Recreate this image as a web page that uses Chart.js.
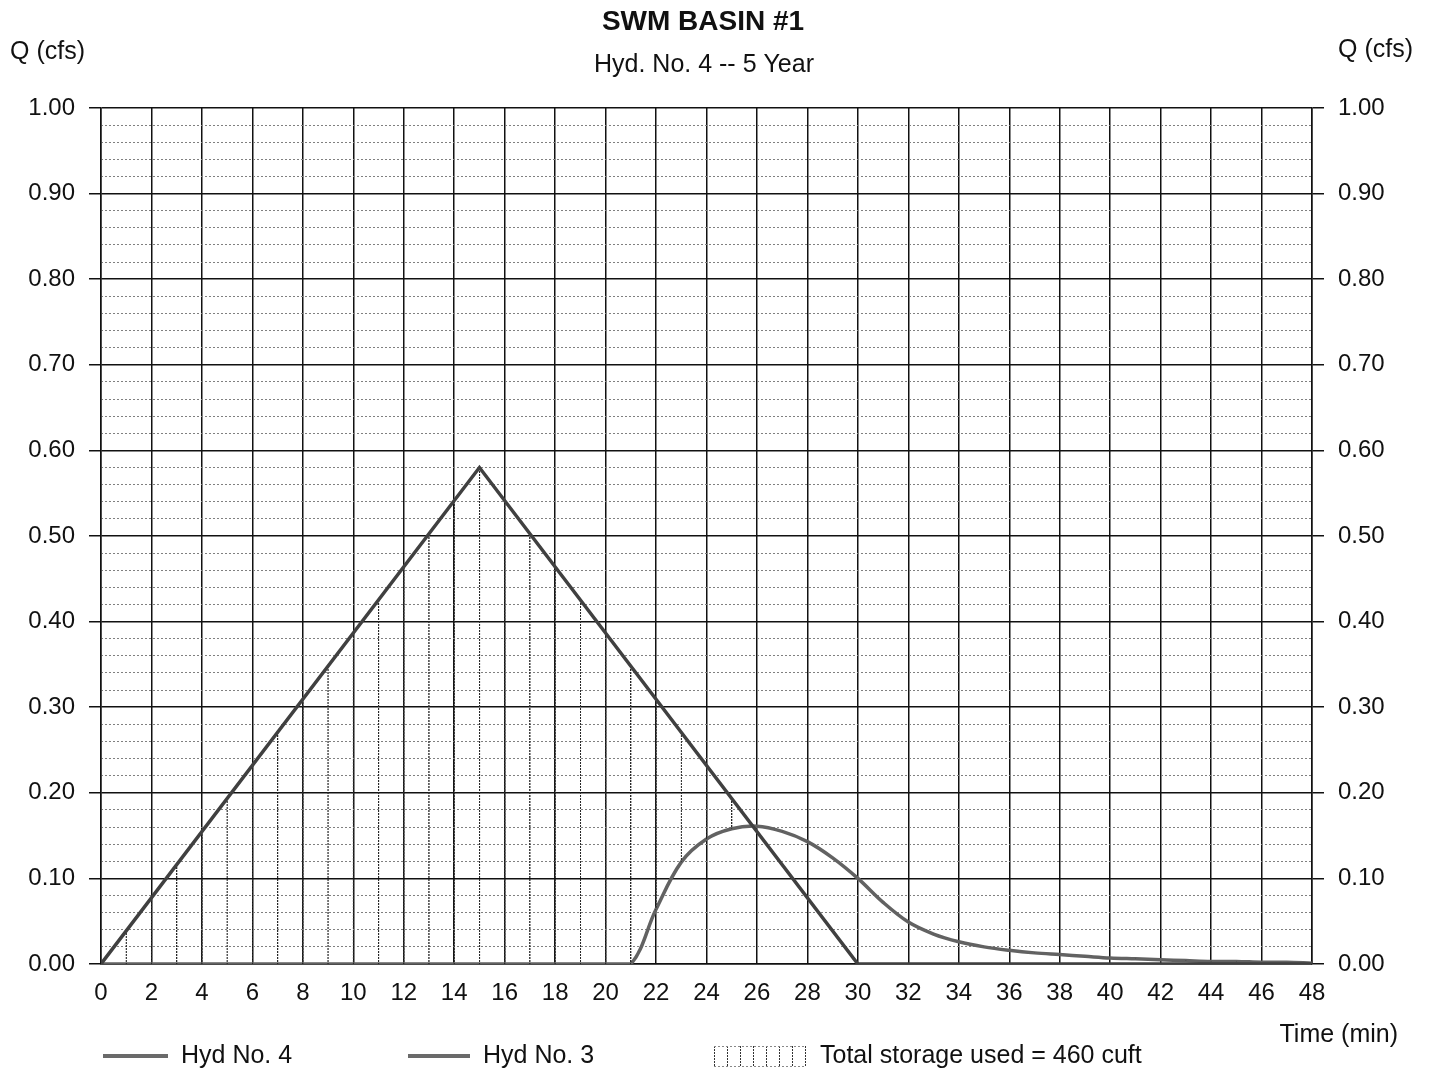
<!DOCTYPE html>
<html>
<head>
<meta charset="utf-8">
<title>SWM BASIN #1</title>
<script src="https://cdn.jsdelivr.net/npm/chart.js@4.4.0/dist/chart.umd.min.js"></script>
<style>
  html, body { margin: 0; padding: 0; background: #fff; }
  #wrap { position: relative; width: 1429px; height: 1070px; }
</style>
</head>
<body>
<div id="wrap"><canvas id="hydChart"></canvas></div>
<script>
// Hydrograph values (time in min, Q in cfs)
const hyd4Time = [0, 15, 30, 48];
const hyd4Q = [0, 0.58, 0, 0];

const hyd3Time = [0, 20, 21, 22, 23, 24, 25, 26, 27, 28, 29, 30, 31, 32, 33, 34, 35,
  36, 37, 38, 39, 40, 41, 42, 43, 44, 45, 46, 47, 48];
const hyd3Q = [0, 0, 0, 0.064, 0.119, 0.146, 0.158, 0.161, 0.155, 0.143, 0.124, 0.100, 0.072,
  0.049, 0.035, 0.026, 0.020, 0.016, 0.013, 0.011, 0.009, 0.007, 0.006, 0.005, 0.004,
  0.003, 0.003, 0.002, 0.002, 0.001];

const timeTicks = [0, 48, 2];      // min, max, step
const flowTicks = [0, 1, 0.1];     // min, max, step
const minorStep = 0.02;

const titleText = 'SWM BASIN #1';
const subtitleText = 'Hyd. No. 4 -- 5 Year';
const yTitle = 'Q (cfs)';
const xTitle = 'Time (min)';
const legendLabels = ['Hyd No. 4', 'Hyd No. 3', 'Total storage used = 460 cuft'];

const FONT = "'Liberation Sans', Arial, Helvetica, sans-serif";

function toPoints(xs, ys) {
  return xs.map((x, i) => ({ x: x, y: ys[i] }));
}

// vertical dotted hatch, one line per minute, lined up with the x scale
function storageHatch(ctx) {
  const chart = ctx.chart;
  const xs = chart.scales && chart.scales.x;
  if (!xs || !chart.chartArea) return 'rgba(0,0,0,0)';
  const p0 = xs.getPixelForValue(0);
  const p2 = xs.getPixelForValue(2);
  const c = document.createElement('canvas');
  c.width = 100;
  c.height = 3;
  const g = c.getContext('2d');
  g.fillStyle = 'rgba(40,40,40,1)';
  g.fillRect(0, 0, 2.4, 2);
  g.fillRect(50, 0, 2.4, 2);
  const pat = chart.ctx.createPattern(c, 'repeat');
  const sx = (p2 - p0) / 100;
  pat.setTransform(new DOMMatrix([sx, 0, 0, 1, p0 - 1.2 * sx, 0]));
  return pat;
}

const textPlugin = {
  id: 'swmTexts',
  afterDraw(chart) {
    const ctx = chart.ctx;
    ctx.save();
    ctx.fillStyle = '#111';
    ctx.textBaseline = 'middle';

    ctx.font = 'bold 28px ' + FONT;
    ctx.textAlign = 'center';
    ctx.fillText(titleText, 703, 22);
    ctx.font = '25px ' + FONT;
    ctx.fillText(subtitleText, 704, 65);

    ctx.textAlign = 'left';
    ctx.fillText(yTitle, 10, 52);
    ctx.fillText(yTitle, 1338, 50);
    ctx.textAlign = 'right';
    ctx.fillText(xTitle, 1398, 1035);

    // legend
    const ly = 1056;
    ctx.textAlign = 'left';
    ctx.lineCap = 'butt';
    ctx.strokeStyle = '#6a6a6a';
    ctx.lineWidth = 4;
    ctx.beginPath();
    ctx.moveTo(103, ly); ctx.lineTo(168, ly);
    ctx.moveTo(408, ly); ctx.lineTo(470, ly);
    ctx.stroke();
    ctx.fillText(legendLabels[0], 181, ly);
    ctx.fillText(legendLabels[1], 483, ly);

    ctx.strokeStyle = '#333';
    ctx.lineWidth = 1;
    ctx.setLineDash([2, 1]);
    ctx.beginPath();
    for (let x = 714; x <= 806; x += 13) {
      ctx.moveTo(x + 0.5, 1046); ctx.lineTo(x + 0.5, 1067);
    }
    ctx.stroke();
    ctx.strokeStyle = '#888';
    ctx.setLineDash([2, 2]);
    ctx.beginPath();
    ctx.moveTo(714, 1046.5); ctx.lineTo(806, 1046.5);
    ctx.moveTo(714, 1066.5); ctx.lineTo(806, 1066.5);
    ctx.stroke();
    ctx.setLineDash([]);
    ctx.fillText(legendLabels[2], 820, ly);
    ctx.restore();
  }
};

const tickFont = { family: FONT, size: 24 };

new Chart(document.getElementById('hydChart'), {
  type: 'line',
  data: {
    datasets: [
      {
        label: legendLabels[0],
        data: toPoints(hyd4Time, hyd4Q),
        borderColor: '#404040',
        borderWidth: 3.5,
        pointRadius: 0,
        tension: 0,
        backgroundColor: storageHatch,
        fill: { target: 1, below: 'rgba(0,0,0,0)' }
      },
      {
        label: legendLabels[1],
        data: toPoints(hyd3Time, hyd3Q),
        borderColor: '#626262',
        borderWidth: 3.5,
        pointRadius: 0,
        tension: 0.35,
        fill: false
      }
    ]
  },
  options: {
    responsive: true,
    maintainAspectRatio: false,
    animation: false,
    layout: { padding: { top: 108, left: 0, right: 0, bottom: 0 } },
    plugins: {
      legend: { display: false },
      tooltip: { enabled: false },
      title: { display: false }
    },
    scales: {
      x: {
        type: 'linear',
        min: timeTicks[0],
        max: timeTicks[1],
        afterFit: s => { s.height = 106; },
        ticks: { stepSize: timeTicks[2], font: tickFont, color: '#111', padding: 15, maxRotation: 0 },
        grid: { color: '#111', lineWidth: 1.5, drawTicks: false },
        border: { color: '#111', width: 1.5 }
      },
      yMinor: {
        type: 'linear',
        position: 'left',
        min: flowTicks[0],
        max: flowTicks[1],
        afterFit: s => { s.width = 0; },
        ticks: { display: false, stepSize: minorStep },
        grid: {
          drawTicks: false,
          lineWidth: 1,
          color: c => (Math.abs(c.tick.value * 10 - Math.round(c.tick.value * 10)) < 1e-6 ? 'rgba(0,0,0,0)' : '#808080')
        },
        border: { display: false, dash: [2, 2] }
      },
      y: {
        type: 'linear',
        position: 'left',
        min: flowTicks[0],
        max: flowTicks[1],
        afterFit: s => { s.width = 101; },
        ticks: { stepSize: flowTicks[2], font: tickFont, color: '#111', padding: 14, callback: v => v.toFixed(2) },
        grid: { color: '#111', lineWidth: 1.5, tickLength: 12, tickColor: '#111' },
        border: { color: '#111', width: 1.5 }
      },
      y2: {
        type: 'linear',
        position: 'right',
        min: flowTicks[0],
        max: flowTicks[1],
        afterFit: s => { s.width = 117; },
        ticks: { stepSize: flowTicks[2], font: tickFont, color: '#111', padding: 14, callback: v => v.toFixed(2) },
        grid: { drawOnChartArea: false, lineWidth: 1.5, tickLength: 12, tickColor: '#111' },
        border: { color: '#111', width: 1.5 }
      }
    }
  },
  plugins: [textPlugin]
});
</script>
</body>
</html>
